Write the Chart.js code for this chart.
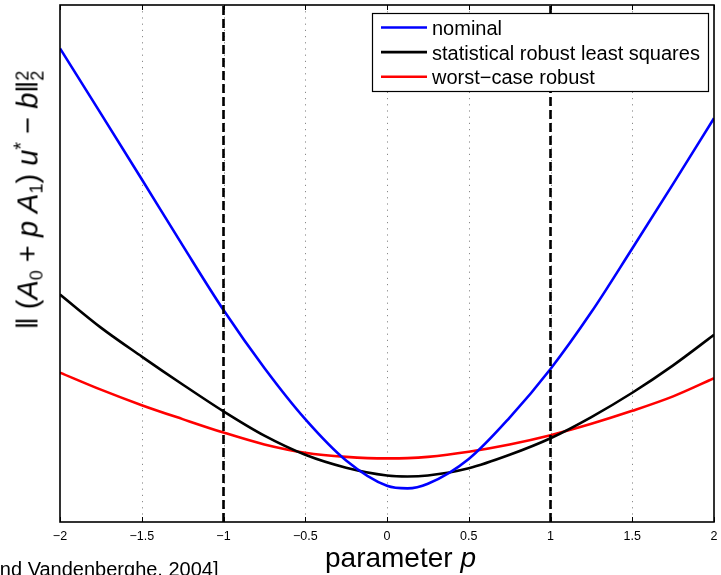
<!DOCTYPE html>
<html>
<head>
<meta charset="utf-8">
<script src="https://cdn.jsdelivr.net/npm/chart.js@4.4.1/dist/chart.umd.min.js"></script>
<style>
  html, body { margin: 0; padding: 0; background: #fff; overflow: hidden; }
  #wrap { position: relative; width: 721px; height: 575px; overflow: hidden; }
  canvas { position: absolute; left: 0; top: 0; }
  .lbl { position: absolute; font-family: "Liberation Sans", Arial, Helvetica, sans-serif; color: #000; white-space: nowrap; }
  #ylab { left: 28px; top: 200px; font-size: 29px; line-height: 34px; transform: translate(-50%, -50%) rotate(-90deg); }
  #ylab sub { font-size: 18px; vertical-align: -5px; line-height: 0; }
  #ylab sup { font-size: 20px; vertical-align: 10px; line-height: 0; }
  #ylab .ss { display: inline-block; font-size: 18px; line-height: 15px; vertical-align: -6px; text-align: left; }
  #xlab { left: 325px; top: 544px; font-size: 28px; line-height: 28px; }
  #cite { left: -68px; top: 558px; font-size: 20px; line-height: 23px; }
</style>
</head>
<body>
<div id="wrap">
  <canvas id="c" width="721" height="575"></canvas>
  <div class="lbl" id="ylab">‖ (<i>A</i><sub>0</sub> + <i>p</i> <i>A</i><sub>1</sub>) <i>u</i><sup>*</sup> − <i>b</i>‖<span class="ss">2<br>2</span></div>
  <div class="lbl" id="xlab">parameter <i>p</i></div>
  <div class="lbl" id="cite">[Boyd and Vandenberghe, 2004]</div>
</div>
<script>
// ---- data (y in arbitrary units) ----
const pValues     = [-2, -1.75, -1.5, -1.25, -1, -0.75, -0.5, -0.25, 0, 0.125, 0.25, 0.5, 0.75, 1, 1.25, 1.5, 1.75, 2];
const nominal     = [91.6, 79.0, 66.3, 53.5, 41.0, 29.8, 19.9, 11.9, 7.0, 6.5, 7.4, 12.2, 20.2, 29.6, 40.6, 52.9, 65.4, 78.1];
const statistical = [44.0, 37.6, 32.0, 26.6, 21.4, 16.7, 13.0, 10.5, 9.0, 8.8, 9.0, 10.4, 13.0, 16.2, 20.3, 25.0, 30.3, 36.2];
const worstCase   = [28.9, 25.6, 22.6, 19.9, 17.3, 15.0, 13.4, 12.6, 12.3, 12.35, 12.6, 13.6, 15.0, 16.8, 19.0, 21.5, 24.3, 27.8];
const seriesNames = ["nominal", "statistical robust least squares", "worst\u2212case robust"];
const seriesColors = ["#0000ff", "#000000", "#ff0000"];
const boundP      = [-1, 1];
const xTicks      = [-2, -1.5, -1, -0.5, 0, 0.5, 1, 1.5, 2];
const xTickLabels = ["\u22122", "\u22121.5", "\u22121", "\u22120.5", "0", "0.5", "1", "1.5", "2"];
const yMin = 0, yMax = 100;

const toPts = (ys) => pValues.map((p, i) => ({ x: p, y: ys[i] }));

const curveDatasets = [nominal, statistical, worstCase].map((ys, i) => ({
  label: seriesNames[i],
  data: toPts(ys),
  borderColor: seriesColors[i],
  borderWidth: 2.6,
  pointRadius: 0,
  cubicInterpolationMode: "monotone",
  fill: false,
  order: 2
}));

const boundDatasets = boundP.map(b => ({
  label: "bound",
  isBound: true,
  data: [{ x: b, y: yMin }, { x: b, y: yMax }],
  borderColor: "#000",
  borderWidth: 2.6,
  borderDash: [9, 4],
  pointRadius: 0,
  tension: 0,
  fill: false,
  order: 1
}));

const FONT = "'Liberation Sans', Arial, Helvetica, sans-serif";

const decor = {
  id: "decor",
  beforeDatasetsDraw(chart) {
    const { ctx, chartArea: a, scales: { x } } = chart;
    ctx.save();
    ctx.strokeStyle = "#8a8a8a";
    ctx.lineWidth = 1;
    ctx.setLineDash([1.2, 5]);
    xTicks.forEach(t => {
      if (t <= -2 || t >= 2) return;
      const px = Math.round(x.getPixelForValue(t)) + 0.5;
      ctx.beginPath();
      ctx.moveTo(px, a.top);
      ctx.lineTo(px, a.bottom);
      ctx.stroke();
    });
    ctx.restore();
  },
  afterDraw(chart) {
    const { ctx, chartArea: a, scales: { x } } = chart;
    ctx.save();
    ctx.strokeStyle = "#000";
    ctx.lineWidth = 1;
    xTicks.forEach(t => {
      const px = Math.round(x.getPixelForValue(t)) + 0.5;
      ctx.beginPath();
      ctx.moveTo(px, a.bottom); ctx.lineTo(px, a.bottom - 5);
      ctx.moveTo(px, a.top); ctx.lineTo(px, a.top + 5);
      ctx.stroke();
    });
    ctx.lineWidth = 1.6;
    ctx.strokeRect(a.left, a.top, a.right - a.left, a.bottom - a.top);

    const lx = 372, ly = 13, lw = 336, lh = 78;
    ctx.fillStyle = "#fff";
    ctx.fillRect(lx, ly, lw, lh);
    ctx.lineWidth = 1.2;
    ctx.strokeStyle = "#000";
    ctx.strokeRect(lx + 0.5, ly + 0.5, lw, lh);
    ctx.font = "20px " + FONT;
    ctx.textBaseline = "alphabetic";
    ctx.textAlign = "left";
    chart.data.datasets.filter(d => !d.isBound).forEach((d, i) => {
      const yy = 27.5 + i * 24.6;
      ctx.strokeStyle = d.borderColor;
      ctx.lineWidth = 2.6;
      ctx.setLineDash([]);
      ctx.beginPath();
      ctx.moveTo(381, yy); ctx.lineTo(427, yy);
      ctx.stroke();
      ctx.fillStyle = "#000";
      ctx.fillText(d.label, 432, yy + 7.5);
    });
    ctx.restore();
  }
};

new Chart(document.getElementById("c"), {
  type: "line",
  data: { datasets: [...boundDatasets, ...curveDatasets] },
  options: {
    responsive: false,
    animation: false,
    devicePixelRatio: 1,
    layout: { padding: { left: 60, right: 7, top: 5, bottom: 0 } },
    plugins: { legend: { display: false }, tooltip: { enabled: false } },
    scales: {
      x: {
        type: "linear",
        min: -2, max: 2,
        afterFit(s) { s.height = 53; s.paddingLeft = 0; s.paddingRight = 0; },
        afterBuildTicks(s) { s.ticks = xTicks.map(v => ({ value: v })); },
        grid: { display: false, drawTicks: false },
        border: { display: false },
        ticks: {
          padding: 7,
          color: "#000",
          font: { family: FONT, size: 12.5 },
          maxRotation: 0,
          autoSkip: false,
          callback: (v) => { const i = xTicks.indexOf(v); return i >= 0 ? xTickLabels[i] : ""; }
        }
      },
      y: {
        type: "linear",
        min: yMin, max: yMax,
        display: false
      }
    }
  },
  plugins: [decor]
});
</script>
</body>
</html>
